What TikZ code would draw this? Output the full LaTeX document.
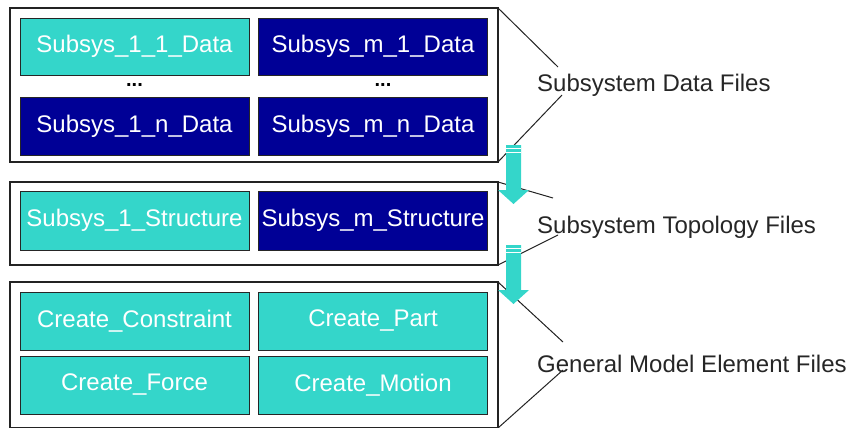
\documentclass[tikz,border=0pt]{standalone}
\usepackage{fontspec}
\setmainfont{Liberation Sans}
\definecolor{boxteal}{RGB}{52,214,202}
\definecolor{boxnavy}{RGB}{0,0,150}
\definecolor{framegray}{RGB}{35,35,35}
\tikzset{
  x=1pt, y=-1pt,
  filebox/.style={draw=black!85, line width=0.9pt, minimum width=229pt, minimum height=58pt,
    inner sep=0pt, outer sep=0pt, text=white, font=\fontsize{24}{28}\selectfont},
  tealbox/.style={filebox, fill=boxteal},
  navybox/.style={filebox, fill=boxnavy},
  framebox/.style={draw=framegray, line width=1.1pt, fill=white, inner sep=0pt, outer sep=0pt},
  dotsnode/.style={font=\fontsize{20}{24}\selectfont\bfseries, inner sep=0pt},
  grouplabel/.style={anchor=base west, inner sep=0pt, text=black!85, font=\fontsize{24}{28}\selectfont},
  bracket/.style={draw=framegray, line width=1pt},
  flowarrow/.pic={
    \fill[boxteal] (-7.5,0) -- (7.5,0) -- (7.5,45) -- (15.5,45) -- (0,59)
      -- (-15.5,45) -- (-7.5,45) -- cycle;
    \draw[white, line width=0.9pt] (-7.5,3.5) -- (7.5,3.5) (-7.5,7.5) -- (7.5,7.5);
  }
}
\begin{document}
\begin{tikzpicture}
\useasboundingbox (0,0) rectangle (855,428);

% outer group frames
\node[framebox, minimum width=488pt, minimum height=154pt] (f1) at (254,85) {};
\node[framebox, minimum width=488pt, minimum height=83pt] (f2) at (254,223.5) {};
\node[framebox, minimum width=488pt, minimum height=146pt] (f3) at (254,355) {};

% subsystem data files
\node[tealbox, minimum height=57pt] (d11) at (134.5,46.5) {Subsys\_1\_1\_Data};
\node[navybox, minimum height=57pt] (dm1) at (373,46.5) {Subsys\_m\_1\_Data};
\node[dotsnode] (dots1) at (134.5,85) {...};
\node[dotsnode] (dots2) at (383,85) {...};
\node[navybox] (d1n) at (134.5,126) {Subsys\_1\_n\_Data};
\node[navybox] (dmn) at (373,126) {Subsys\_m\_n\_Data};

% subsystem topology files
\node[tealbox, minimum height=59pt] (s1) at (134.5,220.5) {Subsys\_1\_Structure};
\node[navybox, minimum height=59pt] (sm) at (373,220.5) {Subsys\_m\_Structure};

% general model element files
\node[tealbox] (gc) at (134.5,321) {Create\_Constraint};
\node[tealbox] (gp) at (373,321) {Create\_Part};
\node[tealbox] (gf) at (134.5,385) {Create\_Force};
\node[tealbox] (gm) at (373,385) {Create\_Motion};

% group labels
\node[grouplabel] (l1) at (537,92) {Subsystem Data Files};
\node[grouplabel] (l2) at (537,233) {Subsystem Topology Files};
\node[grouplabel] (l3) at (537,372) {General Model Element Files};

% bracket ends next to the labels
\coordinate (b1a) at (558,67);
\coordinate (b1b) at (562,95);
\coordinate (b2a) at (553,198);
\coordinate (b2b) at (558,235);
\coordinate (b3a) at (563,342);
\coordinate (b3b) at (563,370);

\draw[bracket] (f1.north east) -- (b1a);
\draw[bracket] (b1b) -- (f1.south east);
\draw[bracket] (f2.north east) -- (b2a);
\draw[bracket] (b2b) -- (f2.south east);
\draw[bracket] (f3.north east) -- (b3a);
\draw[bracket] (b3b) -- (f3.south east);

% flow arrows between the groups
\coordinate (a1) at (513.5,145);
\coordinate (a2) at (513.5,245);
\pic at (a1) {flowarrow};
\pic at (a2) {flowarrow};
\end{tikzpicture}
\end{document}
